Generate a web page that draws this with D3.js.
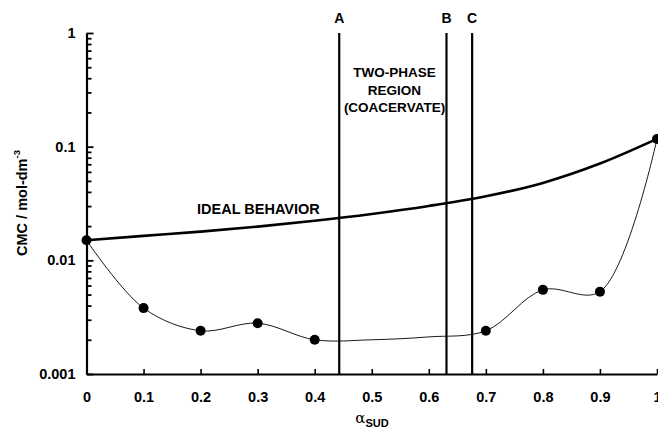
<!DOCTYPE html>
<html>
<head>
<meta charset="utf-8">
<script src="https://cdn.jsdelivr.net/npm/d3@7"></script>
<style>
  body { margin: 0; background: #fff; }
  text { font-family: "Liberation Sans", Arial, sans-serif; font-weight: bold; fill: #000; }
</style>
</head>
<body>
<div id="chart"></div>
<script>
// measured points (alpha_SUD, CMC)
const pointAlpha = [0, 0.1, 0.2, 0.3, 0.4, 0.7, 0.8, 0.9, 1.0];
const pointCmc = [0.015, 0.0038, 0.0024, 0.0028, 0.0020, 0.0024, 0.0055, 0.0053, 0.117];

// thin fitted curve (includes the flat stretch 0.4-0.7)
const fitAlpha = [0, 0.1, 0.2, 0.3, 0.4, 0.5, 0.6, 0.7, 0.8, 0.9, 1.0];
const fitCmc = [0.015, 0.0038, 0.0024, 0.0028, 0.0020, 0.00200, 0.00212, 0.0024, 0.0055, 0.0053, 0.117];

// ideal behaviour line
const idealAlpha = [0, 0.1, 0.2, 0.3, 0.4, 0.5, 0.6, 0.7, 0.8, 0.9, 1.0];
const idealCmc = [0.015, 0.0164, 0.0179, 0.0198, 0.0223, 0.0256, 0.0301, 0.0366, 0.048, 0.071, 0.117];

// phase boundaries
const boundaryAlpha = [0.443, 0.631, 0.676];
const boundaryLabels = ['A', 'B', 'C'];

const xTicks = [0, 0.1, 0.2, 0.3, 0.4, 0.5, 0.6, 0.7, 0.8, 0.9, 1];
const xTickLabels = ['0', '0.1', '0.2', '0.3', '0.4', '0.5', '0.6', '0.7', '0.8', '0.9', '1'];
const yMajor = [0.001, 0.01, 0.1, 1];
const yTickLabels = ['0.001', '0.01', '0.1', '1'];
const regionLines = ['TWO-PHASE', 'REGION', '(COACERVATE)'];

const W = 658, H = 428;

const svg = d3.select('#chart')
  .append('svg')
  .attr('width', W)
  .attr('height', H);

const x = d3.scaleLinear().domain([0, 1]).range([86.5, 657]);
const y = d3.scaleLog().domain([0.001, 1]).range([374, 33]);

// minor + major log ticks
const yAll = [];
[0.001, 0.01, 0.1].forEach(d => { for (let k = 1; k < 10; k++) yAll.push(d * k); });
yAll.push(1);
const isMajor = d => yMajor.some(m => Math.abs(m - d) < d * 1e-6);

// y axis
const yAxis = svg.append('g')
  .attr('transform', `translate(${x(0)},0)`)
  .call(d3.axisLeft(y)
    .tickValues(yAll)
    .tickSizeInner(-7)
    .tickSizeOuter(0)
    .tickPadding(10)
    .tickFormat(d => {
      const i = yMajor.findIndex(m => Math.abs(m - d) < d * 1e-6);
      return i >= 0 ? yTickLabels[i] : '';
    }));
yAxis.select('.domain').attr('stroke-width', 2.2);
yAxis.selectAll('.tick line')
  .attr('stroke-width', 1.8)
  .attr('x2', d => isMajor(d) ? 7 : 5);
yAxis.selectAll('.tick text')
  .attr('font-size', 14.5)
  .attr('x', -11);

// x axis
const xAxis = svg.append('g')
  .attr('transform', `translate(0,${y(0.001)})`)
  .call(d3.axisBottom(x)
    .tickValues(xTicks)
    .tickSizeInner(-5)
    .tickSizeOuter(0)
    .tickPadding(18)
    .tickFormat((d, i) => xTickLabels[i]));
xAxis.select('.domain').attr('stroke-width', 2.2);
xAxis.selectAll('.tick line').attr('stroke-width', 1.6);
xAxis.selectAll('.tick text').attr('font-size', 14.5);

// axis titles
svg.append('text')
  .attr('transform', 'translate(27,203) rotate(-90)')
  .attr('text-anchor', 'middle')
  .attr('font-size', 14.5)
  .text('CMC / mol-dm')
  .append('tspan')
  .attr('font-size', 9.5)
  .attr('dy', -7)
  .text('-3');

const xl = svg.append('text')
  .attr('x', 372)
  .attr('y', 423)
  .attr('text-anchor', 'middle');
xl.append('tspan')
  .style('font-family', '"DejaVu Serif", serif')
  .style('font-weight', 'normal')
  .attr('font-size', 15)
  .text('α');
xl.append('tspan')
  .attr('font-size', 11)
  .attr('dy', 4)
  .text('SUD');

// phase boundary lines
svg.selectAll('.boundary')
  .data(boundaryAlpha)
  .enter().append('line')
  .attr('class', 'boundary')
  .attr('x1', d => x(d))
  .attr('x2', d => x(d))
  .attr('y1', y(1))
  .attr('y2', y(0.001))
  .attr('stroke', '#000')
  .attr('stroke-width', 2.2);

svg.selectAll('.blabel')
  .data(boundaryAlpha)
  .enter().append('text')
  .attr('class', 'blabel')
  .attr('x', d => x(d))
  .attr('y', 23)
  .attr('text-anchor', 'middle')
  .attr('font-size', 14)
  .text((d, i) => boundaryLabels[i]);

const region = svg.append('text')
  .attr('text-anchor', 'middle')
  .attr('font-size', 13.5);
regionLines.forEach((t, i) => {
  region.append('tspan')
    .attr('x', 394.5)
    .attr('y', 77 + i * 17.7)
    .text(t);
});

// ideal behaviour
const line = d3.line()
  .x(d => x(d[0]))
  .y(d => y(d[1]));

svg.append('path')
  .datum(d3.zip(idealAlpha, idealCmc))
  .attr('d', line.curve(d3.curveMonotoneX))
  .attr('fill', 'none')
  .attr('stroke', '#000')
  .attr('stroke-width', 2.6);

svg.append('text')
  .attr('x', 197)
  .attr('y', 213.5)
  .attr('font-size', 14.5)
  .text('IDEAL BEHAVIOR');

// experimental fit
svg.append('path')
  .datum(d3.zip(fitAlpha, fitCmc))
  .attr('d', line.curve(d3.curveCatmullRom.alpha(0.5)))
  .attr('fill', 'none')
  .attr('stroke', '#000')
  .attr('stroke-width', 0.9);

svg.selectAll('.pt')
  .data(d3.zip(pointAlpha, pointCmc))
  .enter().append('circle')
  .attr('class', 'pt')
  .attr('cx', d => x(d[0]))
  .attr('cy', d => y(d[1]))
  .attr('r', 5)
  .attr('fill', '#000');
</script>
</body>
</html>
